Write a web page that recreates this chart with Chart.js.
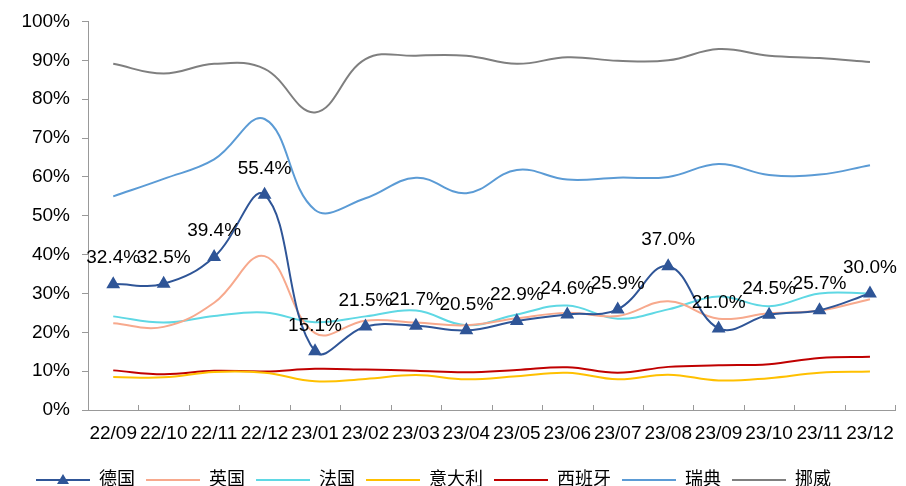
<!DOCTYPE html>
<html>
<head>
<meta charset="utf-8">
<script src="https://cdn.jsdelivr.net/npm/chart.js@4"></script>
<style>
  html, body { margin: 0; padding: 0; background: #fff; }
  #wrap { width: 906px; height: 486px; }
</style>
</head>
<body>
<div id="wrap"><canvas id="chart" width="906" height="486"></canvas></div>
<script>
const months = ["22/09", "22/10", "22/11", "22/12", "23/01", "23/02", "23/03", "23/04",
                "23/05", "23/06", "23/07", "23/08", "23/09", "23/10", "23/11", "23/12"];

const germany = [32.4, 32.5, 39.4, 55.4, 15.1, 21.5, 21.7, 20.5, 22.9, 24.6, 25.9, 37.0, 21.0, 24.5, 25.7, 30.0];
const uk      = [22.3, 21.4, 27.6, 39.6, 19.8, 23.0, 22.5, 21.8, 23.6, 25.0, 24.2, 28.0, 23.5, 24.9, 25.6, 28.5];
const france  = [24.1, 22.5, 24.2, 25.1, 22.6, 24.1, 25.6, 21.8, 24.6, 26.9, 23.5, 25.9, 29.2, 26.7, 30.0, 30.0];
const italy   = [8.5, 8.4, 9.8, 9.6, 7.4, 8.0, 9.0, 7.9, 8.7, 9.6, 7.9, 9.1, 7.6, 8.2, 9.6, 9.9];
const spain   = [10.2, 9.2, 10.1, 9.9, 10.6, 10.4, 10.1, 9.7, 10.3, 11.0, 9.6, 11.1, 11.5, 11.8, 13.4, 13.7];
const sweden  = [55.0, 59.5, 64.5, 74.9, 51.5, 54.5, 59.8, 55.8, 61.8, 59.3, 59.8, 60.0, 63.3, 60.5, 60.6, 63.0];
const norway  = [89.1, 86.6, 89.1, 87.8, 76.6, 90.3, 91.2, 91.2, 89.1, 90.8, 89.9, 90.0, 92.9, 91.2, 90.6, 89.6];

const FONT = "Arial, 'Liberation Sans', 'Noto Sans CJK SC', sans-serif";

function line(label, data, color, extra) {
  return Object.assign({
    label, data,
    borderColor: color,
    backgroundColor: color,
    borderWidth: 2,
    tension: 0.4,
    pointRadius: 0,
    fill: false,
  }, extra || {});
}

// value labels above the German points
const valueLabels = {
  id: "valueLabels",
  afterDatasetsDraw(chart) {
    const meta = chart.getDatasetMeta(0);
    const ctx = chart.ctx;
    ctx.save();
    ctx.font = "19px " + FONT;
    ctx.fillStyle = "#000";
    ctx.textAlign = "center";
    ctx.textBaseline = "middle";
    meta.data.forEach((pt, i) => {
      ctx.fillText(germany[i].toFixed(1) + "%", pt.x, pt.y - 26);
    });
    ctx.restore();
  }
};

// small inward tick marks on the category axis + triangle in legend sample
const axisExtras = {
  id: "axisExtras",
  afterLayout(chart) {
    // legend row sits a little left of centre
    chart.legend.right -= 32;
  },
  afterDraw(chart) {
    const ctx = chart.ctx;
    const area = chart.chartArea;
    const n = months.length;
    const step = (area.right - area.left) / n;
    ctx.save();
    ctx.strokeStyle = "#999";
    ctx.lineWidth = 1;
    ctx.beginPath();
    for (let i = 1; i <= n; i++) {
      const x = Math.round(area.left + i * step) + 0.5;
      ctx.moveTo(x, area.bottom);
      ctx.lineTo(x, area.bottom - 5);
    }
    ctx.stroke();

    const box = chart.legend.legendHitBoxes[0];
    if (box) {
      const cx = box.left + 27;
      const cy = box.top + box.height / 2;
      ctx.fillStyle = "#2F5597";
      ctx.beginPath();
      ctx.moveTo(cx, cy - 6);
      ctx.lineTo(cx + 6, cy + 4);
      ctx.lineTo(cx - 6, cy + 4);
      ctx.closePath();
      ctx.fill();
    }
    ctx.restore();
  }
};

new Chart(document.getElementById("chart").getContext("2d"), {
  type: "line",
  data: {
    labels: months,
    datasets: [
      line("德国", germany, "#2F5597", { pointRadius: 6, pointStyle: "triangle", pointBackgroundColor: "#2F5597", pointBorderColor: "#2F5597" }),
      line("英国", uk, "#F7A98D"),
      line("法国", france, "#5FD8E4"),
      line("意大利", italy, "#FFC000"),
      line("西班牙", spain, "#C00000"),
      line("瑞典", sweden, "#5B9BD5"),
      line("挪威", norway, "#7F7F7F"),
    ],
  },
  options: {
    responsive: false,
    animation: false,
    layout: { padding: { top: 0, right: 7, left: 0, bottom: -13 } },
    plugins: {
      tooltip: { enabled: false },
      legend: {
        position: "bottom",
        labels: {
          font: { size: 18, family: FONT },
          color: "#000",
          boxWidth: 54,
          boxHeight: 2,
          padding: 11,
          generateLabels(chart) {
            return chart.data.datasets.map((ds, i) => ({
              text: ds.label,
              fillStyle: ds.borderColor,
              strokeStyle: ds.borderColor,
              lineWidth: 0,
              fontColor: "#000",
              datasetIndex: i,
            }));
          },
        },
      },
    },
    scales: {
      x: {
        offset: true,
        grid: { display: false, drawTicks: false, offset: true },
        border: { display: true, color: "#999", width: 1 },
        ticks: { font: { size: 19, family: FONT }, color: "#000", padding: 12, maxRotation: 0, autoSkip: false },
        afterFit(scale) { scale.height = 50; },
      },
      y: {
        min: 0,
        max: 100,
        grid: { drawOnChartArea: false, drawTicks: true, tickLength: 6, color: "#999" },
        border: { display: true, color: "#999", width: 1 },
        ticks: {
          stepSize: 10,
          font: { size: 19, family: FONT, lineHeight: 1 },
          color: "#000",
          padding: 12,
          callback: v => v + "%",
        },
        afterFit(scale) { scale.width = 88; },
      },
    },
  },
  plugins: [valueLabels, axisExtras],
});
</script>
</body>
</html>
